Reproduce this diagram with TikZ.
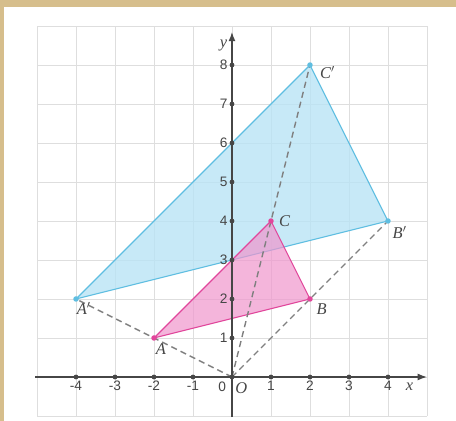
\documentclass[tikz,border=0pt]{standalone}
\usepackage{fontspec}
\setmainfont{Liberation Sans}
\newfontfamily\ptfont{Liberation Serif}
\usepackage{tikz}
\usetikzlibrary{arrows.meta}

\definecolor{framebeige}{RGB}{214,190,140}
\definecolor{gridgray}{RGB}{222,222,222}
\definecolor{axisgray}{RGB}{70,70,70}
\definecolor{bluefill}{RGB}{185,228,245}
\definecolor{blueedge}{RGB}{95,190,225}
\definecolor{pinkfill}{RGB}{240,150,205}
\definecolor{pinkedge}{RGB}{225,70,155}

\begin{document}
\begin{tikzpicture}[
    tick/.style={circle, fill=axisgray, inner sep=0pt, minimum size=3.5pt},
    num/.style={text=axisgray, font=\normalsize, inner sep=1pt},
    ptlabel/.style={text=axisgray, font=\large\ptfont\itshape, inner sep=1pt},
    bluedot/.style={circle, fill=blueedge, inner sep=0pt, minimum size=4pt},
    pinkdot/.style={circle, fill=pinkedge, inner sep=0pt, minimum size=4pt},
    ray/.style={gray, line width=1pt, dash pattern=on 4.5pt off 3pt},
]
% page and frame
\useasboundingbox (-5.949,-1.128) rectangle (5.744,9.667);
\fill[white] (-5.949,-1.128) rectangle (5.744,9.667);
\fill[framebeige] (-5.949,9.487) rectangle (5.744,9.667);
\fill[framebeige] (-5.949,-1.128) rectangle (-5.846,9.667);

% grid
\draw[gridgray, thin] (-5,-1) grid (5,9);

% points
\coordinate (O) at (0,0);
\coordinate (A) at (-2,1);
\coordinate (B) at (2,2);
\coordinate (C) at (1,4);
\coordinate (A') at (-4,2);
\coordinate (B') at (4,4);
\coordinate (C') at (2,8);

% triangles
\filldraw[fill=bluefill, draw=blueedge, thick, fill opacity=0.8] (A') -- (B') -- (C') -- cycle;
\filldraw[fill=pinkfill, draw=pinkedge, thick, fill opacity=0.7] (A) -- (B) -- (C) -- cycle;

% rays from O
\draw[ray] (O) -- (A');
\draw[ray] (O) -- (B');
\draw[ray] (O) -- (C');

% axes
\draw[axisgray, line width=1pt, -{Latex[length=2.4mm]}] (-5.05,0) -- (5.0,0);
\draw[axisgray, line width=1pt, -{Latex[length=2.4mm]}] (0,-1.03) -- (0,8.85);
\foreach \x in {-4,-3,-2,-1,1,2,3,4} {
  \node[tick] (tx\x) at (\x,0) {};
  \node[num, below=2pt] at (tx\x) {\x};
}
\foreach \y in {1,...,8} {
  \node[tick] (ty\y) at (0,\y) {};
  \node[num, left=2pt] at (ty\y) {\y};
}
\node[tick] (to) at (O) {};
\node[num] at (-0.25,-0.26) {0};
\node[ptlabel] at (0.24,-0.28) {O};
\node[ptlabel] at (4.55,-0.25) {x};
\node[ptlabel] at (-0.22,8.5) {y};

% vertices
\node[pinkdot] at (A) {};
\node[pinkdot] at (B) {};
\node[pinkdot] at (C) {};
\node[bluedot] at (A') {};
\node[bluedot] at (B') {};
\node[bluedot] at (C') {};
\node[ptlabel] at (-1.82,0.72) {A};
\node[ptlabel] at (2.3,1.75) {B};
\node[ptlabel] at (1.35,4.0) {C};
\node[ptlabel] at (-3.8,1.75) {A$'$};
\node[ptlabel] at (4.3,3.7) {B$'$};
\node[ptlabel] at (2.45,7.8) {C$'$};
\end{tikzpicture}
\end{document}
